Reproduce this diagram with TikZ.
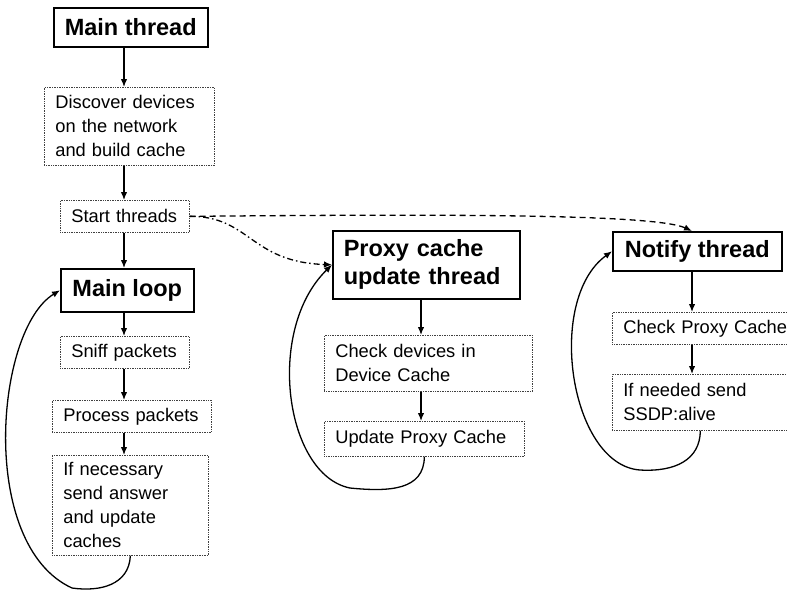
\documentclass[tikz,border=0pt]{standalone}
\usepackage{fontspec}
\setmainfont{Liberation Sans}
\usepackage{tikz}
\usetikzlibrary{arrows.meta,positioning}

\tikzset{
    headbox/.style={draw, line width=1.5pt, inner xsep=11pt, align=left,
        font=\fontsize{23.5}{28}\selectfont\bfseries},
    stepbox/.style={draw=black!75, densely dotted, line width=0.7pt, inner xsep=11pt, align=left,
        font=\fontsize{18.3}{24}\selectfont},
    flow/.style={-{Latex[length=8pt,width=6.5pt]}, line width=1.3pt},
}

\begin{document}
\begin{tikzpicture}[
    x=1pt, y=-1pt,
    every node/.style={anchor=north west},
]
\useasboundingbox (0,0) rectangle (787,590);
\coordinate (colA) at (124,0);
\coordinate (colB) at (421,0);
\coordinate (colC) at (692,0);

\node [headbox, minimum width=154, minimum height=39] (main) at (53,7) {Main thread};
\node [stepbox, text width=148, minimum height=78] (discover) at (44,87) {Discover devices\\on the network\\and build cache};
\node [stepbox, text width=107, minimum height=32] (start) at (60,200) {Start threads};
\node [headbox, minimum width=133, minimum height=43] (loop) at (60,268) {Main loop};
\node [stepbox, text width=107, minimum height=32] (sniff) at (60,336) {Sniff packets};
\node [stepbox, text width=137, minimum height=32] (process) at (52,400) {Process packets};
\node [stepbox, text width=134, minimum height=100] (answer) at (52,455) {If necessary\\send answer\\and update\\caches};

\node [headbox, text width=165, minimum height=68] (proxy) at (332,230) {Proxy cache\\update thread};
\node [stepbox, text width=186, minimum height=56] (checkdev) at (324,335) {Check devices in\\Device Cache};
\node [stepbox, text width=178, minimum height=35] (update) at (324,421) {Update Proxy Cache};

\node [headbox, minimum width=169, minimum height=39] (notify) at (612,231) {Notify thread};
\node [stepbox, text width=175, minimum height=32] (checkproxy) at (612,312) {Check Proxy Cache};
\node [stepbox, text width=154, minimum height=56] (ifneeded) at (612,374) {If needed send\\SSDP:alive};

\draw [flow] (main.south -| colA) -- (discover.north -| colA);
\draw [flow] (discover.south -| colA) -- (start.north -| colA);
\draw [flow] (start.south -| colA) -- (loop.north -| colA);
\draw [flow] (loop.south -| colA) -- (sniff.north -| colA);
\draw [flow] (sniff.south -| colA) -- (process.north -| colA);
\draw [flow] (process.south -| colA) -- (answer.north -| colA);

\draw [flow] (proxy.south -| colB) -- (checkdev.north -| colB);
\draw [flow] (checkdev.south -| colB) -- (update.north -| colB);

\draw [flow] (notify.south -| colC) -- (checkproxy.north -| colC);
\draw [flow] (checkproxy.south -| colC) -- (ifneeded.north -| colC);

\draw [flow, dash pattern=on 6pt off 4pt] (start.east) .. controls (450,214) and (655,214) .. (notify.north -| colC);
\draw [flow, dash pattern=on 6pt off 3pt on 1.5pt off 3pt] (start.east) .. controls (250,216) and (250,262) .. (proxy.west);

\draw [flow] (answer.south) .. controls (129,585) and (100,592) .. (72,588)
    .. controls (-22,545) and (-5,330) .. (loop.west);
\draw [flow] (update.south) .. controls (424,490) and (390,492) .. (350,488)
    .. controls (285,475) and (265,330) .. (proxy.west);
\draw [flow] (ifneeded.south) .. controls (700,460) and (675,472) .. (640,470)
    .. controls (570,465) and (545,300) .. (notify.west);
\end{tikzpicture}
\end{document}
